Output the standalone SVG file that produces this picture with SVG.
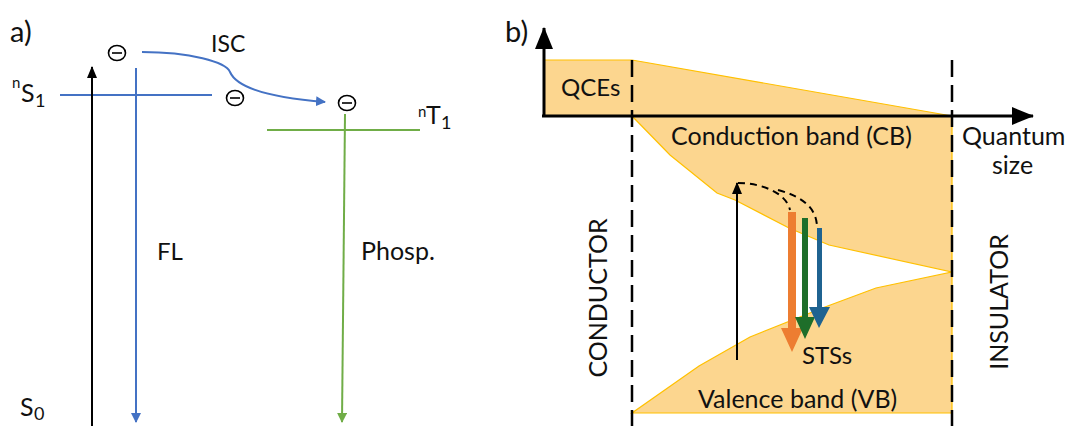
<svg xmlns="http://www.w3.org/2000/svg" width="1067" height="426" viewBox="0 0 1067 426">
<style>
text{font-family:Lato,"Liberation Sans",sans-serif;fill:#111}
.lbl{font-size:25px}
.sup{font-size:15px}
.sub{font-size:18px}
.band{fill:#FCD68F;stroke:#FFC000;stroke-width:1.2}
.dash{stroke:#000;stroke-width:2.5;stroke-dasharray:17 8;fill:none}
.el{fill:#fff;stroke:#000;stroke-width:1.6}
</style>
<defs>
<marker id="ab" markerWidth="10" markerHeight="10" refX="9" refY="5" orient="auto" markerUnits="userSpaceOnUse"><path d="M0,0 L10,5 L0,10 z" fill="#4472C4"/></marker>
<marker id="ag" markerWidth="10" markerHeight="10" refX="9" refY="5" orient="auto" markerUnits="userSpaceOnUse"><path d="M0,0 L10,5 L0,10 z" fill="#70AD47"/></marker>
<marker id="ak" markerWidth="12" markerHeight="10" refX="11" refY="5" orient="auto" markerUnits="userSpaceOnUse"><path d="M0,0 L12,5 L0,10 z" fill="#000"/></marker>
<marker id="ax" markerWidth="22" markerHeight="18" refX="21" refY="9" orient="auto" markerUnits="userSpaceOnUse"><path d="M0,0 L22,9 L0,18 z" fill="#000"/></marker>
</defs>
<rect width="1067" height="426" fill="#fff"/>

<!-- Panel a -->
<g id="panel-a-label"><text x="10" y="42" style="font-size:29px">a)</text></g>
<g id="level-S1">
<line x1="60" y1="95" x2="212" y2="95" stroke="#4472C4" stroke-width="2"/>
<text x="12" y="88" class="sup">n</text>
<text x="21" y="102" class="lbl">S</text>
<text x="35" y="107" class="sub">1</text>
</g>
<g id="level-T1">
<line x1="267" y1="130" x2="420" y2="130" stroke="#70AD47" stroke-width="2"/>
<text x="418" y="117" class="sup">n</text>
<text x="426" y="124" class="lbl">T</text>
<text x="441" y="129" class="sub">1</text>
</g>
<g id="level-S0"><text x="20" y="416" class="lbl">S</text><text x="34" y="420" class="sub">0</text></g>
<g id="electrons">
<ellipse class="el" cx="117" cy="53" rx="8.5" ry="7.5"/><line x1="112" y1="53" x2="122" y2="53" stroke="#000" stroke-width="1.6"/>
<ellipse class="el" cx="235" cy="98" rx="8.5" ry="7.5"/><line x1="230" y1="98" x2="240" y2="98" stroke="#000" stroke-width="1.6"/>
<ellipse class="el" cx="347" cy="103" rx="8.5" ry="7.5"/><line x1="342" y1="103" x2="352" y2="103" stroke="#000" stroke-width="1.6"/>
</g>
<g id="labels-a">
<text x="211" y="52" style="font-size:23px">ISC</text>
<text x="157" y="260" style="font-size:24px">FL</text>
<text x="361" y="260" style="font-size:25px">Phosp.</text>
</g>
<g id="connectors-a">
<line x1="92" y1="426" x2="92" y2="67" stroke="#000" stroke-width="2" marker-end="url(#ak)"/>
<line x1="136" y1="68" x2="136" y2="422" stroke="#4472C4" stroke-width="2" marker-end="url(#ab)"/>
<line x1="345" y1="114" x2="342" y2="422" stroke="#70AD47" stroke-width="2" marker-end="url(#ag)"/>
<path d="M142,52 C190,52 226,62 230,72 C236,86 262,97 325,102" fill="none" stroke="#4472C4" stroke-width="2" marker-end="url(#ab)"/>
</g>

<!-- Panel b -->
<g id="panel-b-label"><text x="505" y="42" style="font-size:29px">b)</text></g>
<g id="bands">
<polygon class="band" points="544,60 632,60 952,116 544,116"/>
<polygon class="band" points="632,116 952,116 952,272 829,245 789,228 735,200 717,193 670,155"/>
<polygon class="band" points="632,413 952,413 952,272 876,288 825,307 750,337 699,366"/>
</g>
<g id="band-labels">
<text x="561" y="96" style="font-size:24px">QCEs</text>
<text x="671" y="145" class="lbl">Conduction band (CB)</text>
<text x="698" y="408" class="lbl">Valence band (VB)</text>
<text x="802" y="364" style="font-size:24px">STSs</text>
<text x="962" y="145" class="lbl">Quantum</text>
<text x="992" y="174" class="lbl">size</text>
<text transform="translate(607,298) rotate(-90)" text-anchor="middle" class="lbl">CONDUCTOR</text>
<text transform="translate(1008,302) rotate(-90)" text-anchor="middle" class="lbl">INSULATOR</text>
</g>
<g id="axes">
<line x1="544" y1="117" x2="544" y2="28" stroke="#000" stroke-width="3" marker-end="url(#ax)"/>
<line x1="542" y1="116" x2="1033" y2="116" stroke="#000" stroke-width="3" marker-end="url(#ax)"/>
<line class="dash" x1="632" y1="60" x2="632" y2="426"/>
<line class="dash" x1="952" y1="60" x2="952" y2="426"/>
</g>
<g id="connectors-b">
<line x1="737" y1="360" x2="737" y2="183" stroke="#000" stroke-width="2" marker-end="url(#ak)"/>
<path d="M738,183 C760,183 786,192 790,210" class="dash" style="stroke-width:2;stroke-dasharray:7 5"/>
<path d="M778,190 C800,196 816,206 817,226" class="dash" style="stroke-width:2;stroke-dasharray:7 5"/>
<path d="M788,212 L796,212 L796,328 L803,328 L792,352 L781,328 L788,328 z" fill="#ED7D31"/>
<path d="M802,218 L808,218 L808,317 L815,317 L805,339 L795,317 L802,317 z" fill="#1E6E2A"/>
<path d="M817,228 L822,228 L822,307 L830,307 L819,328 L809,307 L817,307 z" fill="#1F6391"/>
</g>
</svg>
